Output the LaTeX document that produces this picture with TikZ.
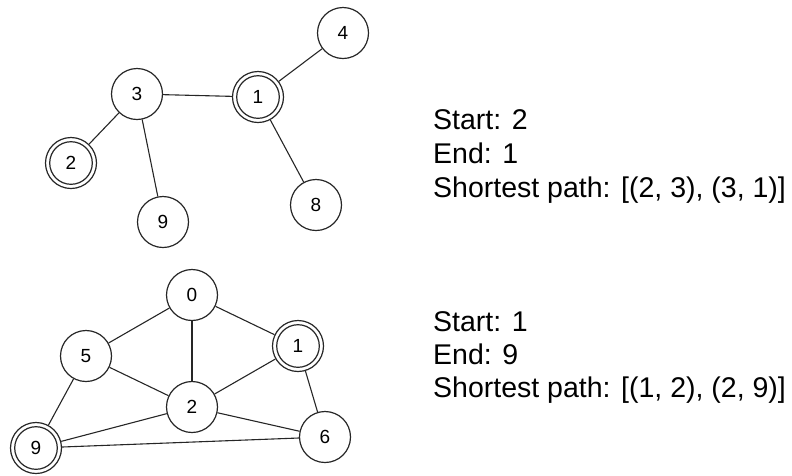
\documentclass[tikz,border=0pt]{standalone}
\usepackage{fontspec}
\setmainfont{Liberation Sans}
\begin{document}
\begin{tikzpicture}[x=1pt,y=-1pt,
  vertex/.style={circle,draw=black!85,line width=1.2pt,minimum size=51pt,inner sep=0pt,
    font=\fontsize{19}{22}\selectfont},
  ring/.style={draw=black!85,line width=1.2pt},
  edge/.style={draw=black!85,line width=1.1pt},
  info/.style={anchor=base west,inner sep=0pt,font=\fontsize{28.5}{33}\selectfont}]
\useasboundingbox (0,0) rectangle (792,475);

% upper graph
\node[vertex] (t4) at (343,33) {4};
\node[vertex] (t3) at (137,94) {3};
\node[vertex] (t1) at (258,97) {1};
\node[vertex] (t2) at (71,163) {2};
\node[vertex] (t9) at (163,222) {9};
\node[vertex] (t8) at (316,205) {8};
\draw[ring] (t1.center) circle[radius=21.3];
\draw[ring] (t2.center) circle[radius=21.3];
\draw[edge] (t3) -- (t1);
\draw[edge] (t1) -- (t4);
\draw[edge] (t1) -- (t8);
\draw[edge] (t3) -- (t2);
\draw[edge] (t3) -- (t9);

\node[info] (s1) at (433,129) {Start: 2};
\node[info] (e1) at (433,163) {End: 1};
\node[info] (p1) at (433,197) {Shortest path: [(2, 3), (3, 1)]};

% lower graph
\node[vertex] (b0) at (192,295) {0};
\node[vertex] (b5) at (86,356) {5};
\node[vertex] (b1) at (298,346) {1};
\node[vertex] (b2) at (192,407) {2};
\node[vertex] (b9) at (36,448) {9};
\node[vertex] (b6) at (325,437) {6};
\draw[ring] (b1.center) circle[radius=21.3];
\draw[ring] (b9.center) circle[radius=21.3];
\draw[edge] (b0) -- (b5);
\draw[edge] (b0) -- (b2);
\draw[edge] (b0) -- (b1);
\draw[edge] (b5) -- (b2);
\draw[edge] (b5) -- (b9);
\draw[edge] (b2) -- (b1);
\draw[edge] (b2) -- (b9);
\draw[edge] (b2) -- (b6);
\draw[edge] (b9) -- (b6);
\draw[edge] (b1) -- (b6);

\node[info] (s2) at (433,331) {Start: 1};
\node[info] (e2) at (433,364) {End: 9};
\node[info] (p2) at (433,397) {Shortest path: [(1, 2), (2, 9)]};
\end{tikzpicture}
\end{document}
